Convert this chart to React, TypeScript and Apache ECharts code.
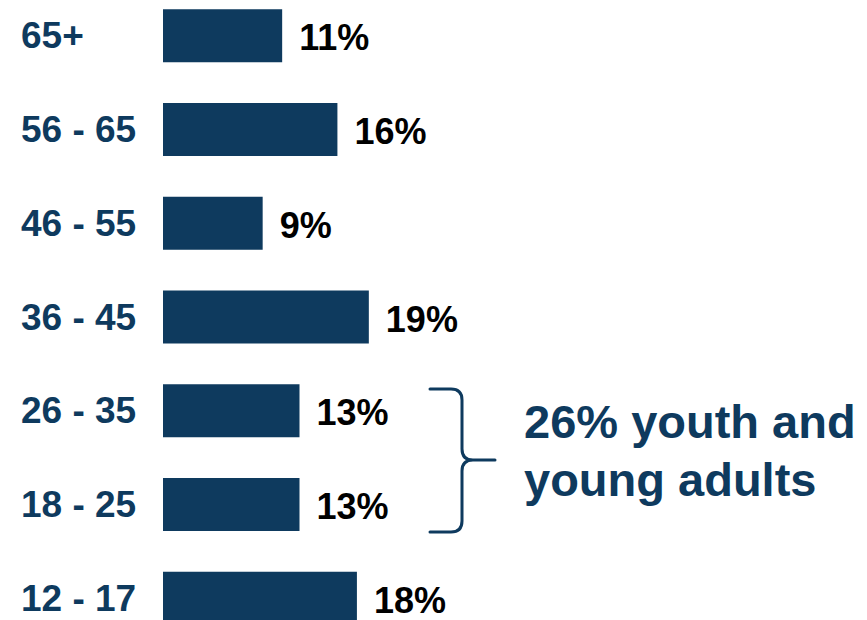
import React, { useEffect, useRef } from "react";
import * as echarts from "echarts";

const categories = ["65+", "56 - 65", "46 - 55", "36 - 45", "26 - 35", "18 - 25", "12 - 17"];
const shares = [11.0, 16.1, 9.2, 19.0, 12.6, 12.6, 17.9];
const shareLabels = ["11%", "16%", "9%", "19%", "13%", "13%", "18%"];
const annotation = "26% youth and\nyoung adults";

const NAVY = "#0e3a5e";
const FONT = "'Liberation Sans', Arial, Helvetica, sans-serif";

// chart canvas is shifted up by 11px so the bar bands line up with the reference
const SHIFT = 11;
const braceD =
  "M430,400 L451,400 Q462,400 462,411 L462,460 Q462,471 473,471 L495,471 M473,471 Q462,471 462,482 L462,532 Q462,543 451,543 L430,543";

let registered = false;
function ensureShape() {
  if (registered) return;
  echarts.graphic.registerShape("brace", echarts.graphic.extendPath(braceD, {}));
  registered = true;
}

export default function App() {
  const ref = useRef<HTMLDivElement>(null);
  useEffect(() => {
    if (!ref.current) return;
    ensureShape();
    const chart = echarts.init(ref.current, undefined, { renderer: "svg" });
    chart.setOption({
      animation: false,
      backgroundColor: "#ffffff",
      grid: { left: 163, right: 54, top: 0, bottom: 0, containLabel: false },
      xAxis: {
        type: "value",
        min: 0,
        max: 60,
        show: false,
      },
      yAxis: {
        type: "category",
        data: categories,
        inverse: true,
        axisLine: { show: false },
        axisTick: { show: false },
        splitLine: { show: false },
        axisLabel: {
          align: "left",
          margin: 142,
          color: NAVY,
          fontSize: 37,
          fontWeight: "bold",
          fontFamily: FONT,
          padding: [5, 0, 0, 0],
        },
      },
      series: [
        {
          type: "bar",
          data: shares,
          barWidth: 53,
          itemStyle: { color: NAVY },
          label: {
            show: true,
            position: "right",
            distance: 17,
            offset: [0, 2],
            color: "#000000",
            fontSize: 36,
            fontWeight: "bold",
            fontFamily: FONT,
            formatter: (p: any) => shareLabels[p.dataIndex],
          },
        },
      ],
      graphic: [
        {
          type: "brace",
          x: 0,
          y: 0,
          style: { fill: "none", stroke: NAVY, lineWidth: 3, lineCap: "round", lineJoin: "round" },
        },
        {
          type: "text",
          x: 524,
          y: 392 + SHIFT,
          style: {
            text: annotation,
            fill: NAVY,
            font: `bold 47px ${FONT}`,
            lineHeight: 58,
            verticalAlign: "top",
            align: "left",
          },
        },
      ],
    });
    return () => chart.dispose();
  }, []);
  return (
    <div
      style={{
        position: "absolute",
        left: 0,
        top: 0,
        width: 867,
        height: 620,
        overflow: "hidden",
        background: "#ffffff",
      }}
    >
      <div
        ref={ref}
        style={{ position: "absolute", left: 0, top: -SHIFT, width: 867, height: 656 }}
      />
    </div>
  );
}
